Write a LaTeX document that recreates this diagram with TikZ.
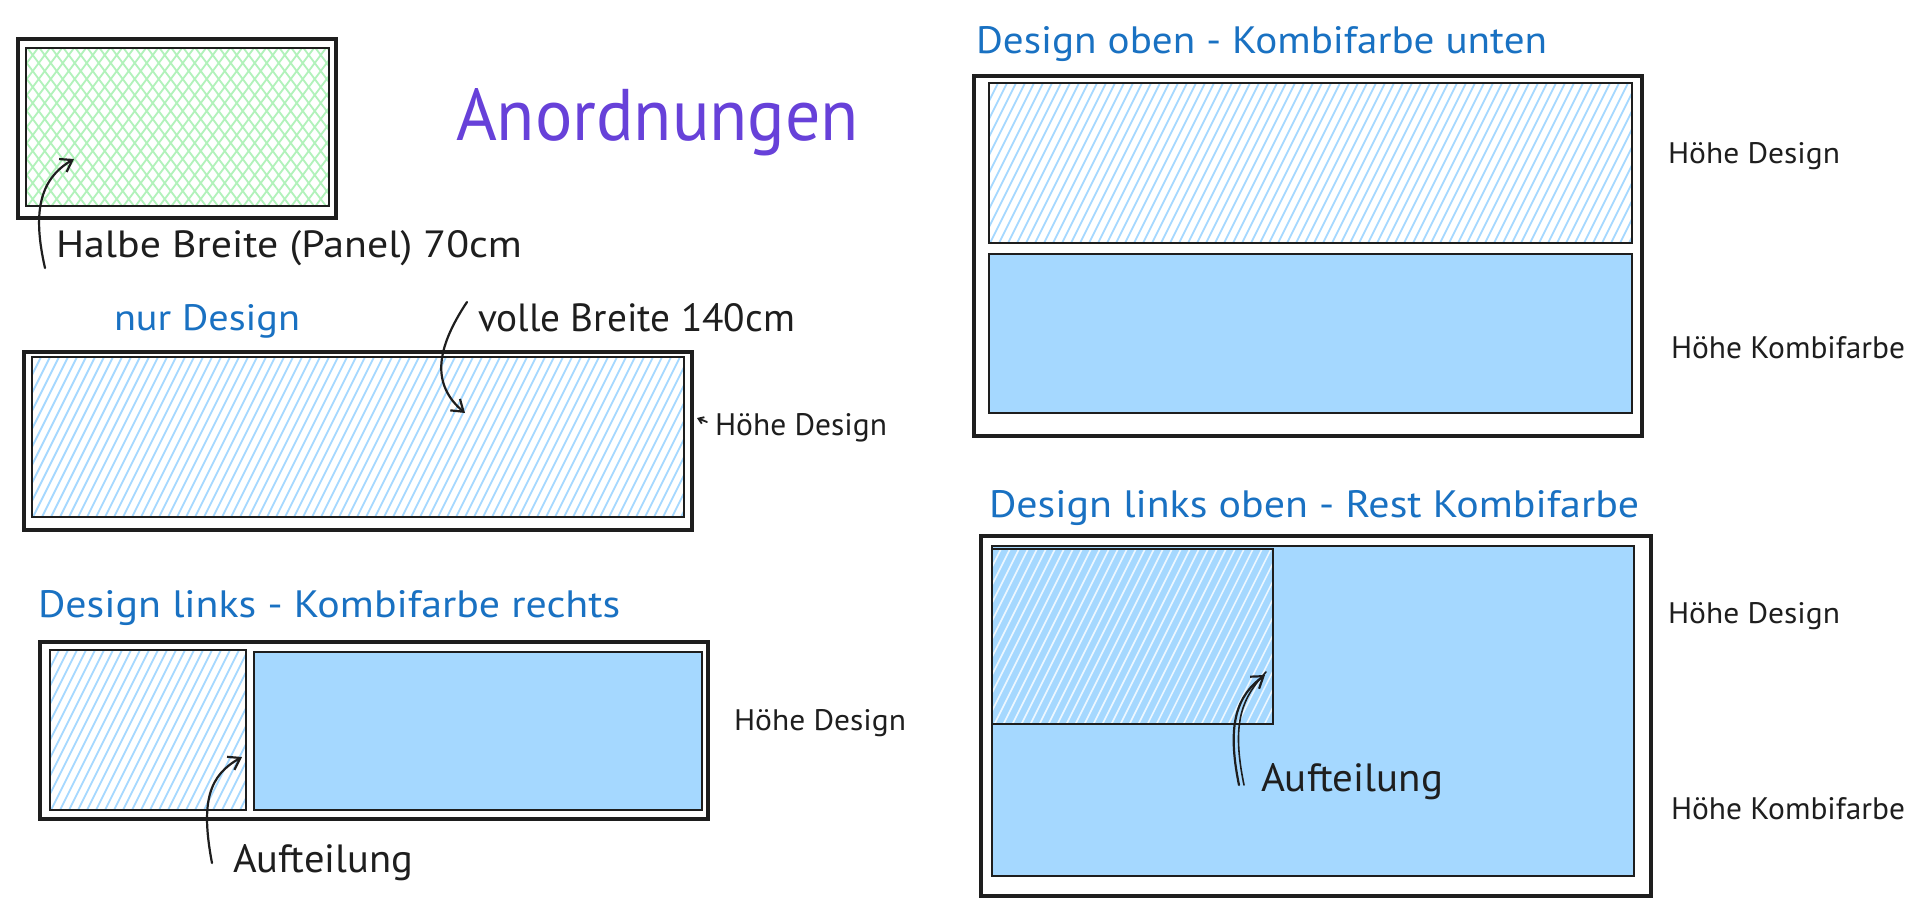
\documentclass[tikz,border=0pt]{standalone}
\usepackage{fontspec}
\setmainfont{PT Sans}
\usepackage{graphicx}
\usetikzlibrary{arrows.meta}
\definecolor{ink}{HTML}{1E1E1E}
\definecolor{tblue}{HTML}{1971C2}
\definecolor{tviolet}{HTML}{6741D9}
\definecolor{fblue}{HTML}{A5D8FF}
\definecolor{hblue}{HTML}{A5D8FF}
\definecolor{lgreen}{HTML}{B2F2BB}
\newcommand\tx[3]{\resizebox{#1pt}{#2pt}{#3}}
\newcommand\hatchrect[7]{%
 \begin{scope}
 \clip (#1,#2) rectangle (#3,#4);
 \pgfmathsetmacro\hh{#4-#2}
 \pgfmathsetmacro\dd{\hh*#6}
 \pgfmathsetmacro\xs{#1-max(\dd,0)}
 \pgfmathsetmacro\xe{#3-min(\dd,0)}
 \pgfmathsetmacro\xn{\xs+#7}
 \foreach \x in {\xs,\xn,...,\xe} \draw[#5] (\x,#4) -- ++(\dd,-\hh);
 \end{scope}}
\tikzset{
 lab/.style={anchor=base west, inner sep=0pt, outer sep=0pt, text=ink},
 ttl/.style={lab, text=tblue},
 outerbox/.style={draw=ink, line width=3.6pt},
 innerbox/.style={draw=ink, line width=2pt},
 hatchline/.style={draw=hblue, line width=1.8pt},
 greenline/.style={draw=lgreen, line width=1.8pt},
 whiteline/.style={draw=white, line width=1.6pt, opacity=0.8},
 fillbox/.style={fill=fblue},
 pointer/.style={draw=ink, line width=2.2pt, line cap=round, -{Straight Barb[length=11pt,width=15pt,line width=2.2pt]}},
}
\begin{document}
\begin{tikzpicture}[x=1pt,y=-1pt]
\useasboundingbox[fill=white] (0,0) rectangle (1920,914);

% ---------- Panel 1 (green)
\hatchrect{26}{48}{329}{206}{greenline}{0.75}{12}
\hatchrect{26}{48}{329}{206}{greenline}{-0.75}{12}
\draw[innerbox] (26,48) rectangle (329,206);
\draw[outerbox] (18,39) rectangle (336,218);

% ---------- Panel 2 (nur Design)
\hatchrect{32}{357}{684}{517}{hatchline}{0.5}{9}
\draw[innerbox] (32,357) rectangle (684,517);
\draw[outerbox] (24,352) rectangle (692,530);

% ---------- Panel 3
\hatchrect{50}{650}{246}{810}{hatchline}{0.5}{9}
\draw[innerbox] (50,650) rectangle (246,810);
\fill[fillbox] (254,652) rectangle (702,810);
\draw[innerbox] (254,652) rectangle (702,810);
\draw[outerbox] (40,642) rectangle (708,819);

% ---------- Panel 4
\hatchrect{989}{83}{1632}{243}{hatchline}{0.5}{9}
\draw[innerbox] (989,83) rectangle (1632,243);
\fill[fillbox] (989,254) rectangle (1632,413);
\draw[innerbox] (989,254) rectangle (1632,413);
\draw[outerbox] (974,76) rectangle (1642,436);

% ---------- Panel 5
\fill[fillbox] (992,546) rectangle (1634,876);
\hatchrect{992}{549}{1273}{724}{whiteline}{0.5}{9}
\draw[innerbox] (992,546) rectangle (1634,876);
\draw[innerbox] (992,549) rectangle (1273,724);
\draw[outerbox] (981,536) rectangle (1651,896);

% ---------- Texts
\node[lab] (halbe) at (56,257) {\tx{466}{27}{Halbe Breite (Panel) 70cm}};
\node[lab, text=tviolet] (anord) at (456,140) {\tx{403}{52}{Anordnungen}};
\node[ttl] (nur) at (114,330) {\tx{186}{26}{nur Design}};
\node[lab] (volle) at (478,331) {\tx{317}{28}{volle Breite 140cm}};
\node[lab] (hd2) at (715,435) {\tx{172}{22}{Höhe Design}};
\node[ttl] (t3) at (38,617) {\tx{582}{27}{Design links - Kombifarbe rechts}};
\node[lab] (hd3) at (734,730) {\tx{172}{21}{Höhe Design}};
\node[lab] (auf3) at (233,872) {\tx{180}{28}{Aufteilung}};
\node[ttl] (t4) at (976,53) {\tx{571}{27}{Design oben - Kombifarbe unten}};
\node[lab] (hd4) at (1668,163) {\tx{172}{21}{Höhe Design}};
\node[lab] (hk4) at (1671,358) {\tx{234}{22}{Höhe Kombifarbe}};
\node[ttl] (t5) at (989,517) {\tx{650}{27}{Design links oben - Rest Kombifarbe}};
\node[lab] (auf5) at (1261,791) {\tx{182}{28}{Aufteilung}};
\node[lab] (hd5) at (1668,623) {\tx{172}{21}{Höhe Design}};
\node[lab] (hk5) at (1671,819) {\tx{234}{22}{Höhe Kombifarbe}};

% ---------- Arrows
\coordinate (a1s) at (45,268);
\coordinate (a1e) at (74,159);
\draw[pointer] (a1s) .. controls (33,215) and (38,180) .. (a1e);

\coordinate (a2s) at (467,302);
\coordinate (a2e) at (465,413);
\draw[pointer] (a2s) .. controls (435,350) and (432,385) .. (a2e);

\coordinate (a3s) at (212,863);
\coordinate (a3e) at (242,757);
\draw[pointer] (a3s) .. controls (200,800) and (210,775) .. (a3e);

\coordinate (a4s) at (1239,785);
\coordinate (a4e) at (1265,675);
\draw[pointer] (a4s) .. controls (1226,722) and (1238,695) .. (a4e);
\draw[draw=ink, line width=1.6pt, line cap=round] ([xshift=5pt]a4s) .. controls (1231,722) and (1242,698) .. ([xshift=1pt,yshift=3pt]a4e);

\coordinate (a5s) at (707,422);
\coordinate (a5e) at (697,418);
\draw[draw=ink, line width=1.8pt, line cap=round, -{Straight Barb[length=5pt,width=7pt]}] (a5s) -- (a5e);
\end{tikzpicture}
\end{document}
